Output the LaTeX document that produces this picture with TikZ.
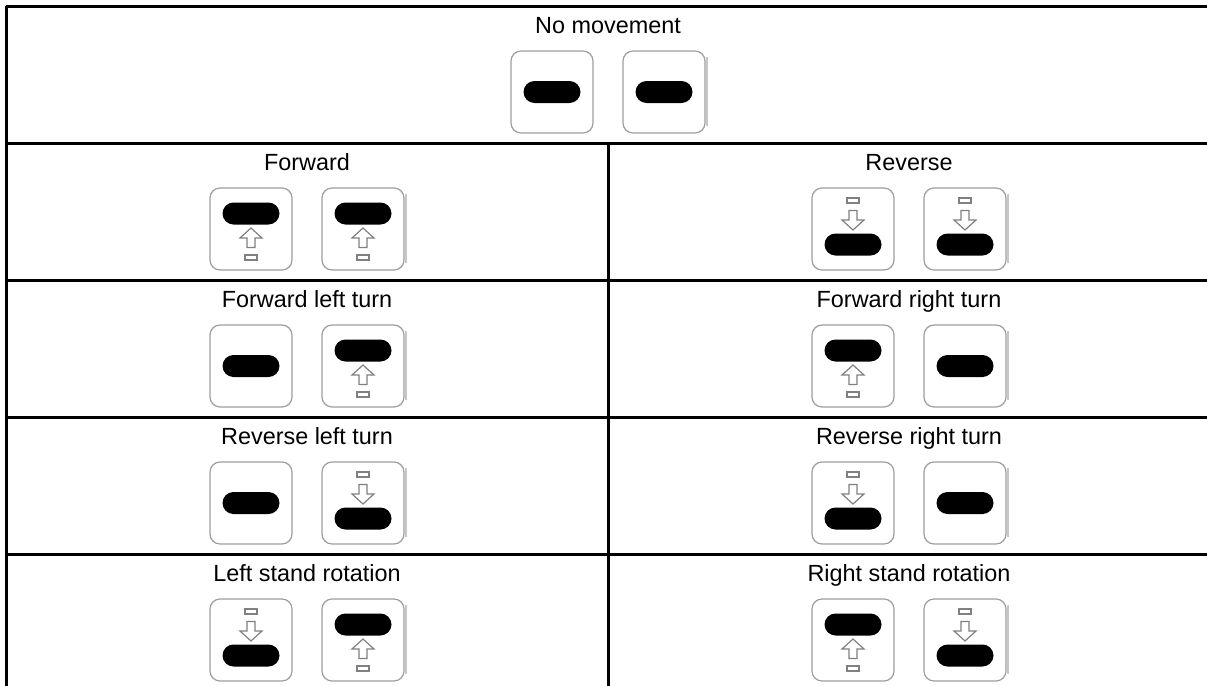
\documentclass[tikz,border=0pt]{standalone}
\usepackage{fontspec}
\setmainfont{Liberation Sans}
\usetikzlibrary{calc}

\tikzset{
  rule/.style={line width=1.5pt},
  caption/.style={anchor=base, inner sep=0pt, font=\fontsize{11.7}{14}\selectfont},
  knob/.style={draw=black!38, line width=0.6pt, fill=white, rounded corners=5pt,
    minimum width=41pt, minimum height=41pt, inner sep=0pt},
  pill/.style={fill=black, rounded corners=5.5pt, minimum width=28.5pt,
    minimum height=11pt, inner sep=0pt},
  hint/.style={draw=black!50, line width=0.6pt, fill=white},
  edge/.style={draw=black!22, line width=1pt}
}

% arrow below (1) or above (-1) a pill
\newcommand{\stickarrow}[2]{%
  \begin{scope}[shift={(#1.center)}, yscale=#2]
    \draw[hint] (0,14.5) -- (11,24.5) -- (4,24.5) -- (4,34) -- (-4,34) -- (-4,24.5) -- (-11,24.5) -- cycle;
    \draw[hint] (-6,41.5) rectangle (6,46.5);
  \end{scope}}
\newcommand{\neutralknob}[3]{%
  \node[knob] (#1) at (#2,#3) {};
  \node[pill] (#1p) at (#1.center) {};}
\newcommand{\forwardknob}[3]{%
  \node[knob] (#1) at (#2,#3) {};
  \node[pill] (#1p) at ($(#1.center)+(0,-15.5)$) {};
  \stickarrow{#1p}{1}}
\newcommand{\reverseknob}[3]{%
  \node[knob] (#1) at (#2,#3) {};
  \node[pill] (#1p) at ($(#1.center)+(0,15.5)$) {};
  \stickarrow{#1p}{-1}}
\newcommand{\knobedge}[1]{%
  \draw[edge] ($(#1.north east)+(1.5,7)$) -- ($(#1.south east)+(1.5,-8)$);}

\begin{document}
\begin{tikzpicture}[x=0.5pt,y=-0.5pt]
                \useasboundingbox (0,0) rectangle (1207,686);

                % Drawing table rules
                \draw [rule] (6,6) -- (1212,6);%
                \draw [rule] (6,6) -- (6,690);%
                \draw [rule] (6,143) -- (1212,143);%
                \draw [rule] (6,280) -- (1212,280);%
                \draw [rule] (6,417) -- (1212,417);%
                \draw [rule] (6,554) -- (1212,554);%
                \draw [rule] (608,143) -- (608,690);%

                % Row: no movement
                \node [caption] (tstop) at (608,33) {No movement};
                \neutralknob{stopL}{552}{92}
                \neutralknob{stopR}{664}{92}
                \knobedge{stopR}

                % Row: forward / reverse
                \node [caption] (tfwd) at (307,170) {Forward};
                \forwardknob{fwdL}{251}{229}
                \forwardknob{fwdR}{363}{229}
                \knobedge{fwdR}
                \node [caption] (trev) at (909,170) {Reverse};
                \reverseknob{revL}{853}{229}
                \reverseknob{revR}{965}{229}
                \knobedge{revR}

                % Row: forward turns
                \node [caption] (tfl) at (307,307) {Forward left turn};
                \neutralknob{flL}{251}{366}
                \forwardknob{flR}{363}{366}
                \knobedge{flR}
                \node [caption] (tfr) at (909,307) {Forward right turn};
                \forwardknob{frL}{853}{366}
                \neutralknob{frR}{965}{366}
                \knobedge{frR}

                % Row: reverse turns
                \node [caption] (trl) at (307,444) {Reverse left turn};
                \neutralknob{rlL}{251}{503}
                \reverseknob{rlR}{363}{503}
                \knobedge{rlR}
                \node [caption] (trr) at (909,444) {Reverse right turn};
                \reverseknob{rrL}{853}{503}
                \neutralknob{rrR}{965}{503}
                \knobedge{rrR}

                % Row: stand rotations
                \node [caption] (tls) at (307,581) {Left stand rotation};
                \reverseknob{lsL}{251}{640}
                \forwardknob{lsR}{363}{640}
                \knobedge{lsR}
                \node [caption] (trs) at (909,581) {Right stand rotation};
                \forwardknob{rsL}{853}{640}
                \reverseknob{rsR}{965}{640}
                \knobedge{rsR}
\end{tikzpicture}
\end{document}
